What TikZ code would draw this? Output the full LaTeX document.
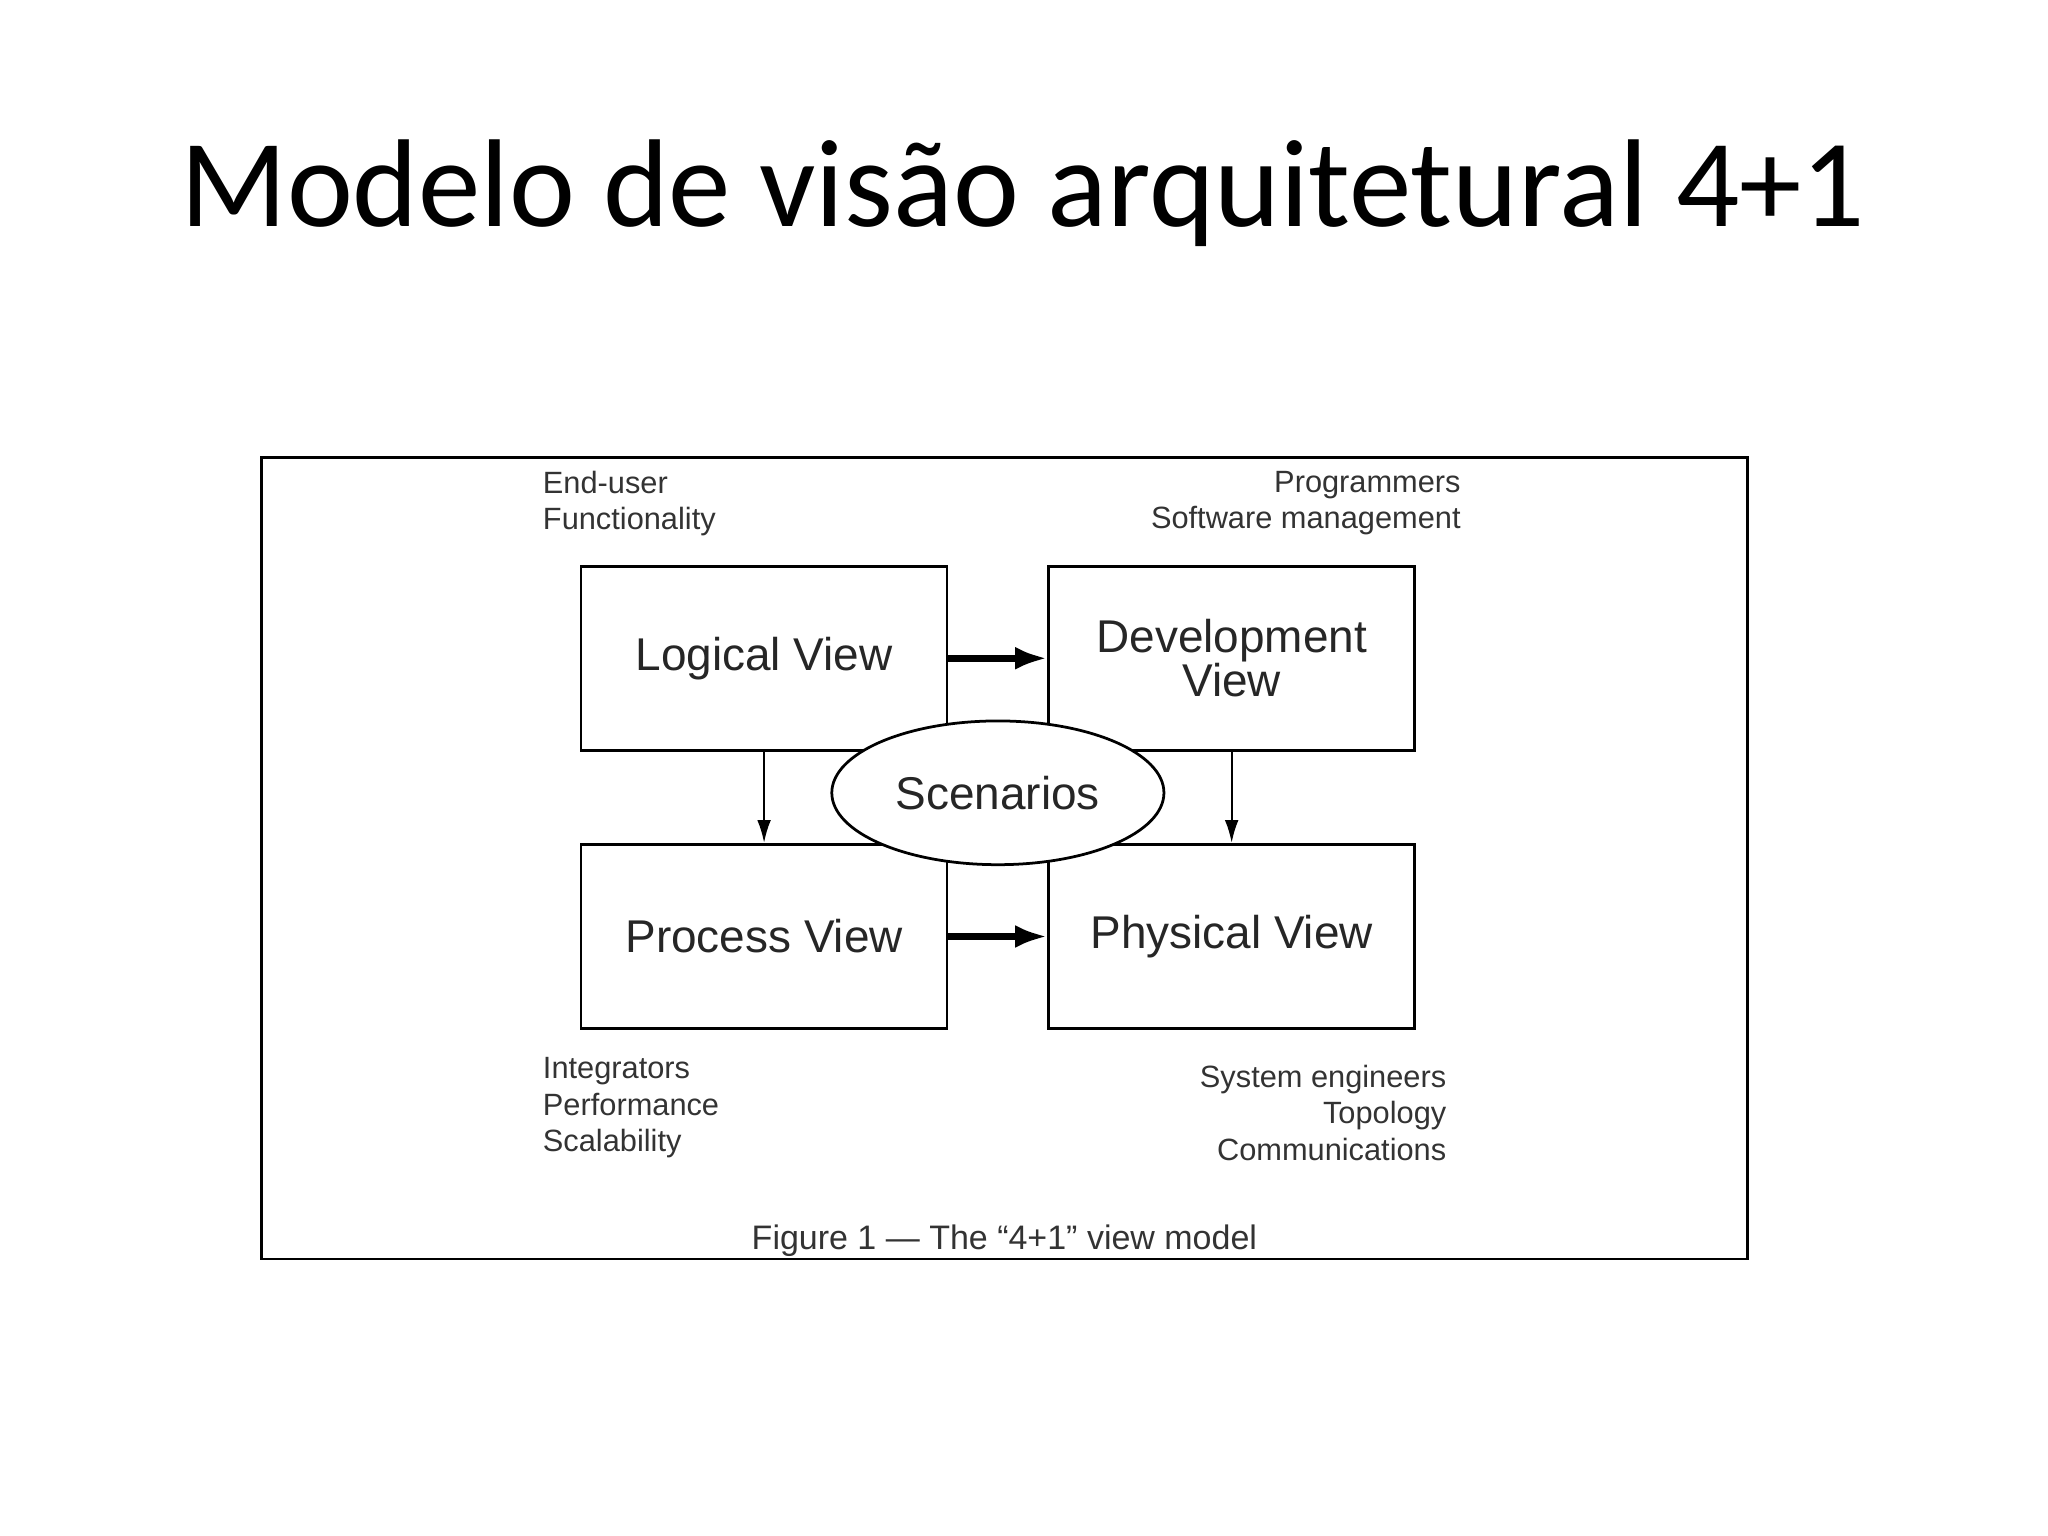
\documentclass[tikz,border=0pt]{standalone}
\usepackage{fontspec}
\setmainfont{Liberation Sans}
\newfontfamily\titlefont{Carlito}
\usetikzlibrary{shapes.geometric,arrows.meta}
\begin{document}
\begin{tikzpicture}[x=0.01cm,y=-0.01cm,
  vbox/.style={draw,line width=0.6pt,minimum width=2.8cm,minimum height=1.41cm,font=\fontsize{10}{11.5}\selectfont,align=center,text=black!85},
  lbl/.style={font=\fontsize{6.7}{7.9}\selectfont,text=black!80,inner sep=0pt},
  thick arr/.style={-{Latex[length=7pt,width=5pt]},line width=1.6pt},
  thin arr/.style={-{Latex[length=5pt,width=3pt]},line width=0.5pt}]
\useasboundingbox (0,0) rectangle (1568,1176);
\node[font=\titlefont\fontsize{27.2}{30}\selectfont] (title) at (783,148) {Modelo de visão arquitetural 4+1};
\draw[line width=0.6pt] (200,350) rectangle (1338,964);
\node[vbox] (log) at (585,504) {Logical View};
\node[vbox] (dev) at (943,504) {Development\\[-2pt]View};
\node[vbox] (pro) at (585,717) {Process View};
\node[vbox] (phy) at (943,717) {Physical View};
\draw[thick arr] (log.east) -- (dev.west);
\draw[thick arr] (pro.east) -- (phy.west);
\draw[thin arr] (log.south) -- (pro.north);
\draw[thin arr] (dev.south) -- (phy.north);
\node[draw,fill=white,ellipse,line width=0.6pt,minimum width=2.5cm,minimum height=1.1cm,font=\fontsize{10}{11.5}\selectfont,text=black!85] (sc) at (764,607) {Scenarios};
\node[lbl,anchor=north west,align=left] (tl) at (415,360) {End-user\\Functionality};
\node[lbl,anchor=north east,align=right] (tr) at (1119,360) {Programmers\\Software management};
\node[lbl,anchor=north west,align=left] (bl) at (415,809) {Integrators\\Performance\\Scalability};
\node[lbl,anchor=north east,align=right] (br) at (1108,815) {System engineers\\Topology\\Communications};
\node[lbl,font=\fontsize{7.4}{8.5}\selectfont] (cap) at (769,950) {Figure 1 — The “4+1” view model};
\end{tikzpicture}
\end{document}
